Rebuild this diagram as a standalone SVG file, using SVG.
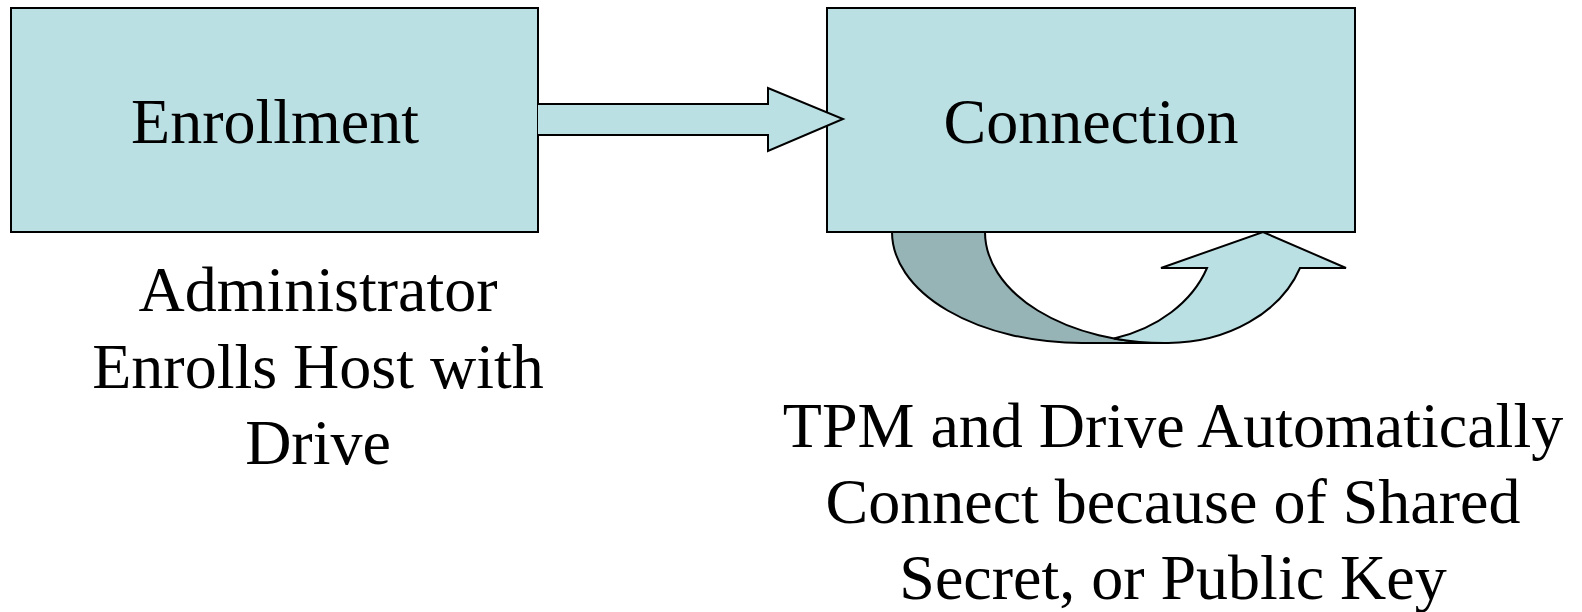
<svg xmlns="http://www.w3.org/2000/svg" width="1582" height="612" viewBox="0 0 1582 612">
<style>
.box{fill:#BBE0E3;stroke:#000;stroke-width:2}
.arrow{fill:#BBE0E3;stroke:#000;stroke-width:2;stroke-linejoin:miter}
.back{fill:#96B3B6;stroke:#000;stroke-width:2}
.t{font-family:"Liberation Serif","Times New Roman",serif;font-size:64px;fill:#000;text-anchor:middle}
</style>
<rect width="1582" height="612" fill="#fff"/>
<g id="enrollment">
<rect class="box" x="11" y="8" width="527" height="224"/>
<text class="t" x="275" y="143">Enrollment</text>
</g>
<g id="connection">
<rect class="box" x="827" y="8" width="528" height="224"/>
<text class="t" x="1091" y="143">Connection</text>
</g>
<g id="enrollment-label">
<text class="t" x="318" y="311">Administrator</text>
<text class="t" x="318" y="388">Enrolls Host with</text>
<text class="t" x="318" y="464">Drive</text>
</g>
<g id="connection-label">
<text class="t" x="1173" y="447">TPM and Drive Automatically</text>
<text class="t" x="1173" y="523">Connect because of Shared</text>
<text class="t" x="1173" y="599">Secret, or Public Key</text>
</g>
<g id="connectors">
<path id="straight-arrow" class="arrow" d="M538,104 L768,104 L768,88 L843,119 L768,151 L768,135 L538,135"/>
<g id="curved-arrow">
<path class="back" d="M892,232 A190 111 0 0 0 1082,343 L1165,343 A180 111 0 0 1 985,232 Z"/>
<path class="arrow" d="M1114,338.5 A140 111 0 0 0 1207,268 L1161,268 L1263,232 L1346,268 L1300,268 A140 111 0 0 1 1168,343 A180 111 0 0 1 1114,338.5 Z"/>
</g>
</g>
</svg>
